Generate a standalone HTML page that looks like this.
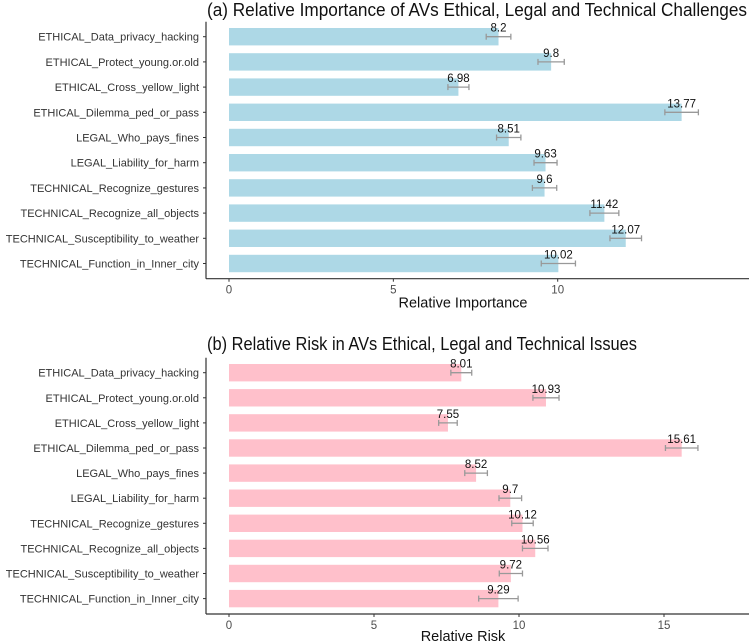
<!DOCTYPE html>
<html><head><meta charset="utf-8"><style>
html,body{margin:0;padding:0;background:#fff;}
svg{display:block;font-family:"Liberation Sans",Arial,sans-serif;}
</style></head><body>
<svg id="chart" width="749" height="644"></svg>
<script>
const categories=["ETHICAL_Data_privacy_hacking","ETHICAL_Protect_young.or.old","ETHICAL_Cross_yellow_light","ETHICAL_Dilemma_ped_or_pass","LEGAL_Who_pays_fines","LEGAL_Liability_for_harm","TECHNICAL_Recognize_gestures","TECHNICAL_Recognize_all_objects","TECHNICAL_Susceptibility_to_weather","TECHNICAL_Function_in_Inner_city"];
const importanceValues=[8.2,9.8,6.98,13.77,8.51,9.63,9.6,11.42,12.07,10.02];
const importanceErr=[0.375,0.40,0.32,0.51,0.37,0.35,0.37,0.44,0.48,0.52];
const riskValues=[8.01,10.93,7.55,15.61,8.52,9.7,10.12,10.56,9.72,9.29];
const riskErr=[0.36,0.45,0.32,0.56,0.39,0.39,0.37,0.44,0.40,0.68];
const importanceTicks=[0,5,10];
const riskTicks=[0,5,10,15];
const NS="http://www.w3.org/2000/svg";
const svg=document.getElementById('chart');
function mk(tag,attrs,parent){const e=document.createElementNS(NS,tag);for(const k in attrs)e.setAttribute(k,attrs[k]);(parent||svg).appendChild(e);return e;}
function panel(cfg){
  const g=mk('g',{});
  
  
  const x=v=>229+v*cfg.ppu;
  const y=i=>cfg.y0+i*cfg.step;
  const t=mk('text',{x:207,y:cfg.titleY,'font-size':18,fill:'#111',textLength:cfg.titleLen,lengthAdjust:'spacingAndGlyphs'},g);t.textContent=cfg.title;
  
  
  categories.forEach((c,i)=>{
    const l=mk('text',{x:199,y:y(i)+4,'font-size':11,fill:'#333','text-anchor':'end'},g);l.textContent=c;
    
    
    mk('line',{x1:203,x2:206,y1:y(i),y2:y(i),stroke:'#333'},g);
    const b=mk('rect',{x:x(0),y:y(i)-8.7,width:x(cfg.vals[i])-x(0),height:17.4,fill:cfg.color},g);
    
    
    const e0=x(cfg.vals[i]-cfg.err[i]),e1=x(cfg.vals[i]+cfg.err[i]);
    mk('line',{x1:e0,x2:e1,y1:y(i),y2:y(i),stroke:'#999','stroke-width':1.3},g);
    mk('line',{x1:e0,x2:e0,y1:y(i)-3,y2:y(i)+3,stroke:'#999','stroke-width':1.3},g);
    mk('line',{x1:e1,x2:e1,y1:y(i)-3,y2:y(i)+3,stroke:'#999','stroke-width':1.3},g);
    const v=mk('text',{x:x(cfg.vals[i]),y:y(i)-5,'font-size':11.5,fill:'#111','text-anchor':'middle'},g);v.textContent=cfg.vals[i];
    
    
  });
  mk('line',{x1:206,x2:206,y1:cfg.y0-15,y2:cfg.axisY,stroke:'#333','stroke-width':1.2},g);
  mk('line',{x1:206,x2:749,y1:cfg.axisY,y2:cfg.axisY,stroke:'#333','stroke-width':1.2},g);
  cfg.ticks.forEach(tv=>{
    mk('line',{x1:x(tv),x2:x(tv),y1:cfg.axisY,y2:cfg.axisY+3,stroke:'#333'},g);
    const tl=mk('text',{x:x(tv),y:cfg.axisY+15,'font-size':11.5,fill:'#4d4d4d','text-anchor':'middle'},g);tl.textContent=tv;
    
    
  });
  const at=mk('text',{x:463,y:cfg.axisY+cfg.titleOff,'font-size':14.5,fill:'#111','text-anchor':'middle'},g);at.textContent=cfg.xTitle;
  
  
}
panel({name:'importance-panel',title:'(a) Relative Importance of AVs Ethical, Legal and Technical Challenges',titleY:16,titleLen:540,y0:36.7,step:25.2,ppu:32.87,axisY:278.7,vals:importanceValues,err:importanceErr,ticks:importanceTicks,color:'#add8e6',xTitle:'Relative Importance',titleOff:29});
panel({name:'risk-panel',title:'(b) Relative Risk in AVs Ethical, Legal and Technical Issues',titleY:350,titleLen:430,y0:372.7,step:25.1,ppu:29,axisY:614,vals:riskValues,err:riskErr,ticks:riskTicks,color:'#ffc0cb',xTitle:'Relative Risk',titleOff:27});
</script>
</body></html>
